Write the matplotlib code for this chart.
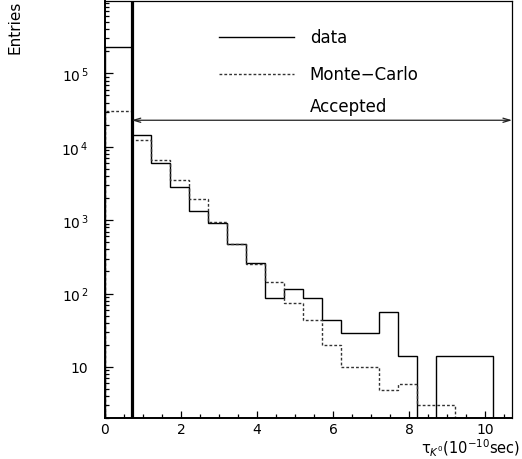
import numpy as np
import matplotlib
matplotlib.use("Agg")
import matplotlib.pyplot as plt
from matplotlib.ticker import FuncFormatter, MultipleLocator, LogLocator

# bin edges in units of 10^-10 sec
bin_edges = [0.0, 0.7, 1.2, 1.7, 2.2, 2.7, 3.2, 3.7, 4.2, 4.7, 5.2, 5.7,
             6.2, 6.7, 7.2, 7.7, 8.2, 8.7, 9.2, 9.7, 10.2, 10.7]
# entries per bin
data_counts = [2.3e5, 14300, 5980, 2870, 1345, 921, 480, 263, 86, 115, 86,
               44, 29, 29, 57, 14, 0, 14, 14, 14, 0]
mc_counts = [3.1e4, 12250, 6630, 3530, 1940, 950, 470, 250, 146, 74, 43,
             20, 10, 10, 4.9, 5.9, 3, 3, 0, 0, 0]
cut_value = 0.7
accepted_level = 2.3e4

plt.rcParams['font.family'] = ['DejaVu Sans']

fig = plt.figure(figsize=(5.22, 4.6), dpi=100)
ax = fig.add_axes([0.2011, 0.0885, 0.7799, 0.9072])

ax.set_yscale('log', nonpositive='clip')

ax.stairs(data_counts, bin_edges, color='black', linewidth=1.0)
ax.stairs(mc_counts, bin_edges, color='#333333', linewidth=1.0,
          linestyle=(0, (2, 1.5)))

# cut line
ax.axvline(cut_value, color='black', linewidth=2.3)

# accepted region arrow
ax.annotate('', xy=(bin_edges[-1], accepted_level), xytext=(cut_value, accepted_level),
            arrowprops=dict(arrowstyle='<->,head_length=0.5,head_width=0.15',
                            color='#222222', linewidth=0.9, shrinkA=0, shrinkB=0))

ax.set_xlim(0, 10.7)
ax.set_ylim(2, 9.7e5)

# legend drawn by hand, ROOT style
ax.plot([0.279, 0.465], [0.913, 0.913], transform=ax.transAxes,
        color='black', linewidth=1.0)
ax.plot([0.279, 0.465], [0.825, 0.825], transform=ax.transAxes,
        color='#333333', linewidth=1.0, linestyle=(0, (2, 1.5)))
ax.text(0.503, 0.913, 'data', transform=ax.transAxes, fontsize=12,
        va='center', ha='left')
ax.text(0.503, 0.825, 'Monte\u2212Carlo', transform=ax.transAxes, fontsize=12,
        va='center', ha='left')
ax.text(0.503, 0.749, 'Accepted', transform=ax.transAxes, fontsize=12,
        va='center', ha='left')

# ticks
ax.xaxis.set_major_locator(MultipleLocator(2))
ax.xaxis.set_minor_locator(MultipleLocator(0.5))
ax.yaxis.set_major_locator(LogLocator(base=10, numticks=10))
ax.yaxis.set_minor_locator(LogLocator(base=10, subs=np.arange(2, 10), numticks=10))


def log_label(v, pos):
    n = int(round(np.log10(v)))
    if n == 1:
        return '10'
    return '10$^{\\,%d}$' % n


ax.yaxis.set_major_formatter(FuncFormatter(log_label))
ax.yaxis.set_minor_formatter(FuncFormatter(lambda v, p: ''))
ax.tick_params(which='both', direction='in', top=False, right=False,
               labelsize=10, width=0.9)
ax.tick_params(axis='y', which='major', length=6, pad=12)
ax.tick_params(axis='y', which='minor', length=3)
ax.tick_params(axis='x', which='major', length=5, pad=3)
ax.tick_params(axis='x', which='minor', length=3)

for side in ['left', 'bottom']:
    ax.spines[side].set_linewidth(1.4)
for side in ['top', 'right']:
    ax.spines[side].set_linewidth(0.9)

fig.text(0.029, 0.998, 'Entries', rotation=90, ha='center', va='top',
         fontsize=11, family=['Liberation Sans Narrow', 'DejaVu Sans'])
fig.text(0.997, 0.002, '\u03c4$_{K^{0}}$(10$^{-10}$sec)', ha='right', va='bottom',
         fontsize=10.5)

fig.savefig('out.png', dpi=100)
